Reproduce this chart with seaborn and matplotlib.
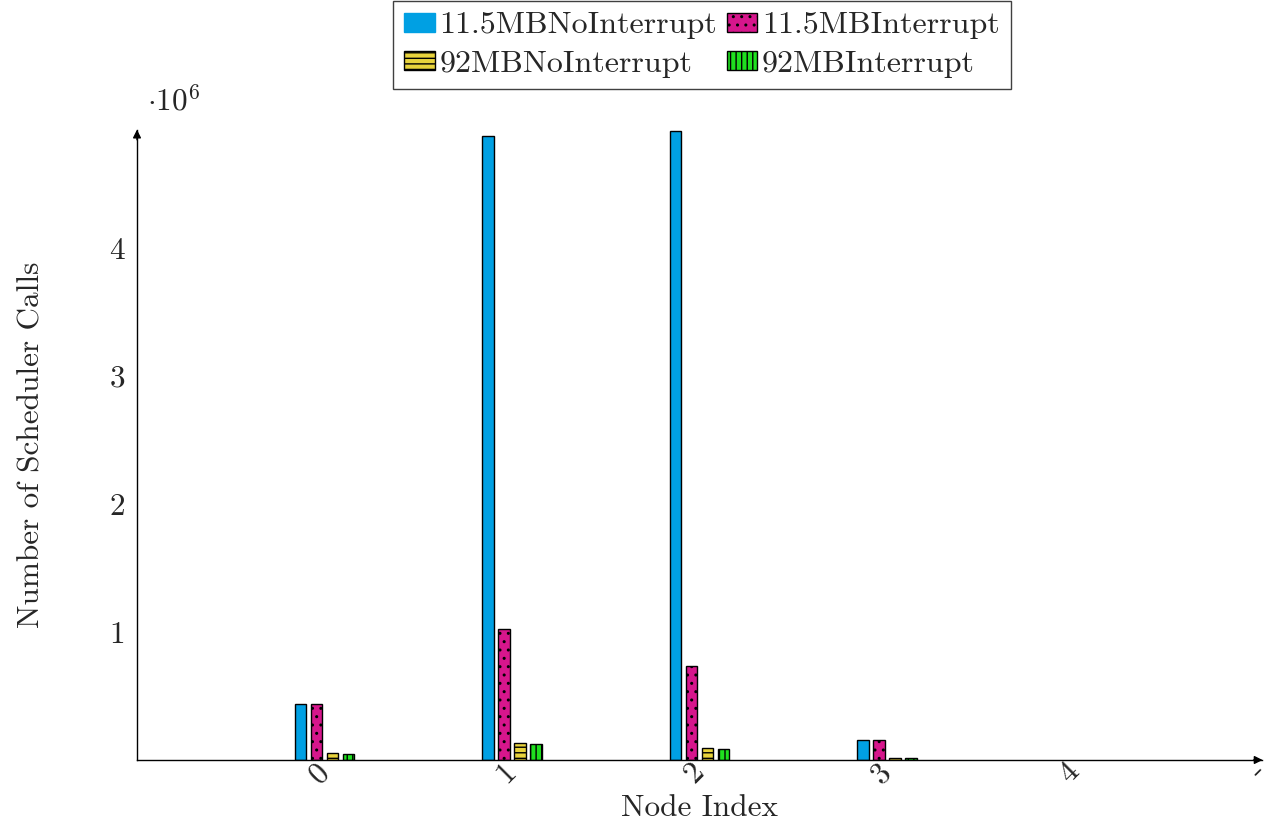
import numpy as np
import pandas as pd
import matplotlib
matplotlib.use("Agg")
import matplotlib.pyplot as plt
import seaborn as sns
from matplotlib.patches import Patch

# ---- data ----
categories = ["0", "1", "2", "3", "4", "-"]
nodes = ["0", "1", "2", "3"]
series = ["11.5MBNoInterrupt", "11.5MBInterrupt", "92MBNoInterrupt", "92MBInterrupt"]
v_115_noint = [0.44e6, 4.87e6, 4.91e6, 0.155e6]
v_115_int = [0.44e6, 1.02e6, 0.735e6, 0.155e6]
v_92_noint = [0.055e6, 0.13e6, 0.094e6, 0.015e6]
v_92_int = [0.05e6, 0.125e6, 0.086e6, 0.012e6]
colors = ["#00a0e3", "#d6168c", "#e8d33c", "#1fe01f"]
hatches = ["", "..", "---", "|||"]

rows = []
for name, vals in zip(series, [v_115_noint, v_115_int, v_92_noint, v_92_int]):
    for n, v in zip(nodes, vals):
        rows.append({"node": n, "series": name, "value": v})
df = pd.DataFrame(rows)

sns.set_theme(style="white")
plt.rcParams["font.family"] = ["cmr10", "DejaVu Serif"]
plt.rcParams["mathtext.fontset"] = "cm"
plt.rcParams["axes.formatter.use_mathtext"] = True
plt.rcParams["hatch.linewidth"] = 1.0
plt.rcParams["hatch.color"] = "black"

FS = 22.5

fig = plt.figure(figsize=(12.71, 8.23), dpi=100)
L, R, B, T = 137 / 1271, 1262 / 1271, 1 - 760 / 823, 1 - 130 / 823
ax = fig.add_axes([L, B, R - L, T - B])

sns.barplot(data=df, x="node", y="value", hue="series", order=categories,
            hue_order=series, palette=colors, saturation=1, width=0.34, gap=0.29,
            edgecolor="black", linewidth=1.0, ax=ax, legend=False)

for cont, h in zip(ax.containers, hatches):
    for p in cont:
        p.set_hatch(h)

ax.set_xlim(-1, 5)
ax.set_ylim(0, 4.92e6)
ax.set_yticks([1e6, 2e6, 3e6, 4e6])
ax.set_yticklabels(["1", "2", "3", "4"])
ax.set_xticks(range(len(categories)))
ax.set_xticklabels(categories, rotation=45, ha="right", va="center",
                   rotation_mode="anchor")
ax.tick_params(axis="both", direction="inout", length=7, width=1,
               color="#a0a0a0", labelsize=FS, pad=5)
ax.tick_params(axis="x", pad=2)

for s in ["top", "right"]:
    ax.spines[s].set_visible(False)
for s in ["left", "bottom"]:
    ax.spines[s].set_color("black")
    ax.spines[s].set_linewidth(1.0)

# axis arrows
ax.annotate("", xy=(1.003, 0), xytext=(0.99, 0), xycoords="axes fraction",
            arrowprops=dict(arrowstyle="-|>", color="black", lw=1, mutation_scale=12))
ax.annotate("", xy=(0, 1.005), xytext=(0, 0.98), xycoords="axes fraction",
            arrowprops=dict(arrowstyle="-|>", color="black", lw=1, mutation_scale=12))

ax.set_xlabel("Node Index", fontsize=FS, labelpad=4)
ax.set_ylabel("Number of Scheduler Calls", fontsize=FS, labelpad=46)
fig.text(147 / 1271, 1 - 102 / 823, r"$\cdot10^{6}$", fontsize=FS, ha="left", va="center")

handles = [Patch(facecolor=c, edgecolor="black", hatch=h, linewidth=1.0)
           for c, h in zip(colors, hatches)]
handles[0] = Patch(facecolor=colors[0], edgecolor=colors[0], linewidth=1.0)
order = [0, 2, 1, 3]
leg = fig.legend([handles[i] for i in order], [series[i] for i in order],
                 loc="upper center", bbox_to_anchor=(702 / 1271, 0.999),
                 ncol=2, fontsize=23, frameon=True, fancybox=False, framealpha=1,
                 edgecolor="#404040", handlelength=0.95, handleheight=0.55,
                 handletextpad=0.15, columnspacing=0.3, borderpad=0.35,
                 labelspacing=0.35, borderaxespad=0.0)
leg.get_frame().set_linewidth(1.0)

fig.savefig("out.png", dpi=100)
